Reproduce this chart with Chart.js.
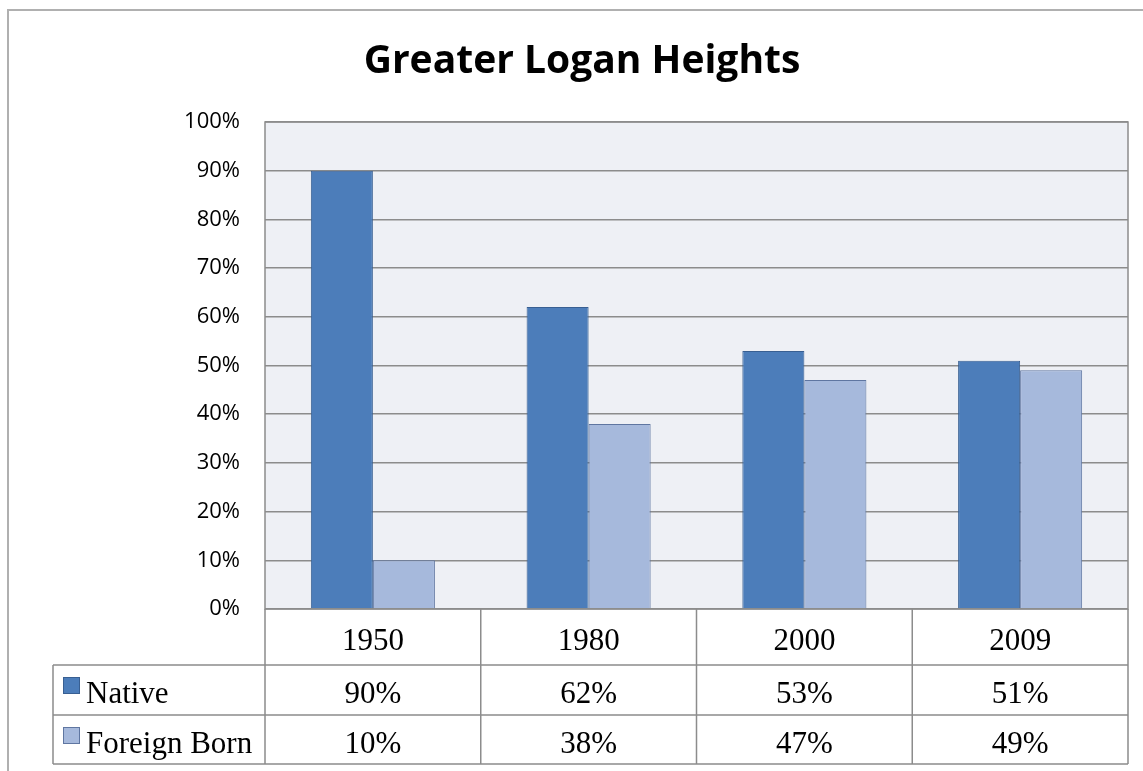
<!DOCTYPE html>
<html>
<head>
<meta charset="utf-8">
<script src="https://cdn.jsdelivr.net/npm/chart.js@4"></script>
<style>
  html, body { margin: 0; padding: 0; background: #fff; }
  #wrap { width: 1143px; height: 771px; }
</style>
</head>
<body>
<div id="wrap"><canvas id="myChart"></canvas></div>
<script>
var years = ['1950', '1980', '2000', '2009'];
var native = [90, 62, 53, 51];
var foreignBorn = [10, 38, 47, 49];
var seriesNames = ['Native', 'Foreign Born'];
var titleText = 'Greater Logan Heights';

var nativeColor = '#4c7dba';
var nativeBorder = '#385f92';
var foreignColor = '#a6b9dc';
var foreignBorder = '#5f76a1';

// frame, title, plot background and the data table under the axis
var tablePlugin = {
    id: 'tablePlugin',
    beforeDraw: function (chart) {
        var c = chart.ctx, a = chart.chartArea;
        c.save();
        c.fillStyle = '#eef0f5';
        c.fillRect(a.left, a.top, a.right - a.left, a.bottom - a.top);
        c.restore();
    },
    afterDraw: function (chart) {
        var c = chart.ctx, a = chart.chartArea, xs = chart.scales.x;
        var rows = [a.bottom, 665, 715, 764];
        var leftX = 53;
        c.save();

        // outer frame
        c.strokeStyle = '#b0b0b0';
        c.lineWidth = 2;
        c.beginPath();
        c.moveTo(8, 771); c.lineTo(8, 10); c.lineTo(1143, 10);
        c.stroke();

        // title
        c.fillStyle = '#000';
        c.font = 'bold 39px "Open Sans"';
        c.textAlign = 'center';
        c.textBaseline = 'alphabetic';
        c.fillText(titleText, 582, 73);

        // plot border
        c.strokeStyle = '#8c8c8c';
        c.lineWidth = 1.5;
        c.strokeRect(a.left, a.top, a.right - a.left, a.bottom - a.top);

        // table grid
        var half = (xs.getPixelForValue(1) - xs.getPixelForValue(0)) / 2;
        c.beginPath();
        for (var i = 0; i <= years.length; i++) {
            var x = i < years.length ? xs.getPixelForValue(i) - half : xs.getPixelForValue(years.length - 1) + half;
            c.moveTo(x, rows[0]); c.lineTo(x, rows[3]);
        }
        c.moveTo(leftX, rows[1]); c.lineTo(leftX, rows[3]);
        for (var r = 1; r < rows.length; r++) {
            c.moveTo(leftX, rows[r]); c.lineTo(a.right, rows[r]);
        }
        c.stroke();

        // table text
        c.fillStyle = '#000';
        c.font = '31px "Liberation Serif"';
        c.textAlign = 'center';
        var data = [native, foreignBorn];
        for (var j = 0; j < years.length; j++) {
            var cx = xs.getPixelForValue(j);
            c.fillText(years[j], cx, 650);
            c.fillText(data[0][j] + '%', cx, 703);
            c.fillText(data[1][j] + '%', cx, 753);
        }

        // series labels with keys
        c.textAlign = 'left';
        var keyFill = [nativeColor, foreignColor], keyLine = [nativeBorder, foreignBorder];
        var baseY = [703, 753];
        for (var k = 0; k < seriesNames.length; k++) {
            c.fillStyle = keyFill[k];
            c.fillRect(63, baseY[k] - 26, 17, 17);
            c.strokeStyle = keyLine[k];
            c.lineWidth = 1;
            c.strokeRect(63.5, baseY[k] - 25.5, 16, 16);
            c.fillStyle = '#000';
            c.fillText(seriesNames[k], 86, baseY[k]);
        }
        c.restore();
    }
};

var ctx = document.getElementById('myChart').getContext('2d');
var myChart = new Chart(ctx, {
    type: 'bar',
    data: {
        labels: years,
        datasets: [{
            label: seriesNames[0],
            data: native,
            backgroundColor: nativeColor,
            borderColor: nativeBorder,
            borderWidth: 1
        }, {
            label: seriesNames[1],
            data: foreignBorn,
            backgroundColor: foreignColor,
            borderColor: foreignBorder,
            borderWidth: 1
        }]
    },
    options: {
        maintainAspectRatio: false,
        responsive: true,
        animation: false,
        layout: { padding: { top: 122, right: 15, bottom: 162, left: 0 } },
        datasets: { bar: { categoryPercentage: 0.575, barPercentage: 1 } },
        plugins: {
            legend: { display: false },
            tooltip: { enabled: false }
        },
        scales: {
            x: { display: false },
            y: {
                min: 0,
                max: 100,
                afterFit: function (scale) { scale.width = 265; },
                ticks: {
                    stepSize: 10,
                    padding: 25,
                    color: '#000',
                    font: { family: 'Open Sans', size: 22, weight: '500' },
                    callback: function (v) { return v + '%'; }
                },
                grid: { color: '#8c8c8c', lineWidth: 1.5, drawTicks: false },
                border: { display: false }
            }
        }
    },
    plugins: [tablePlugin]
});
</script>
</body>
</html>
